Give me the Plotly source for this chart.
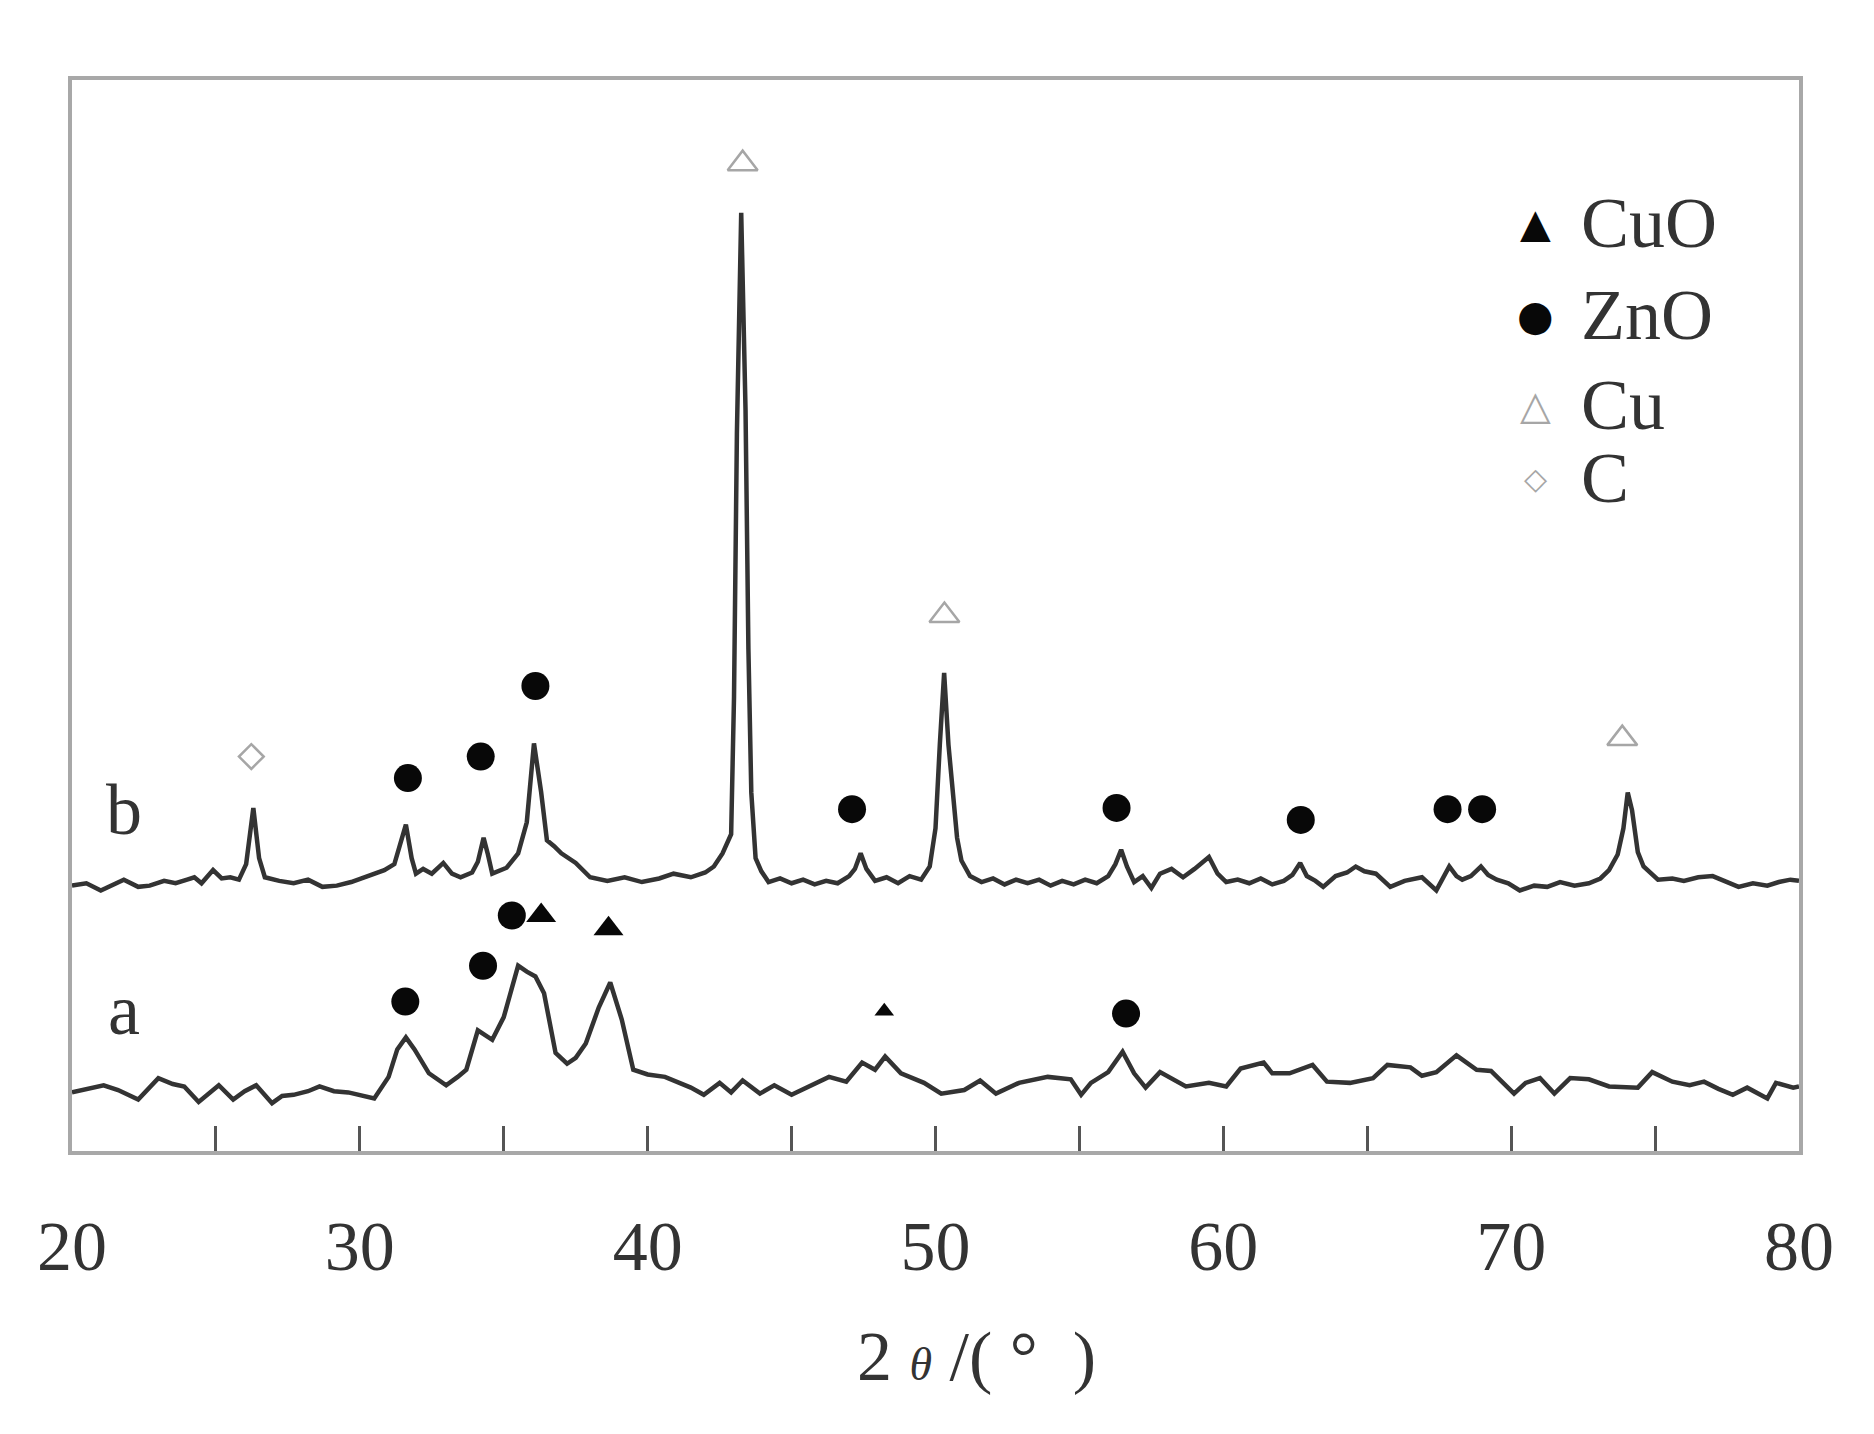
import plotly.graph_objects as go

# --- XRD patterns (intensity in arbitrary units) ---
two_theta_b = [
    20.0, 20.5, 21.0, 21.4, 21.8, 22.3, 22.7, 23.2, 23.6, 24.0, 24.25, 24.5, 24.9, 25.2, 25.5,
    25.8, 26.05, 26.3, 26.5, 26.7, 27.2, 27.7, 28.2, 28.7, 29.2, 29.7, 30.15, 30.5, 30.85, 31.2,
    31.4, 31.6, 31.8, 31.95, 32.2, 32.5, 32.9, 33.2, 33.5, 33.9, 34.1, 34.3, 34.45, 34.6, 35.1,
    35.5, 35.8, 36.05, 36.3, 36.5, 36.75, 37.0, 37.5, 38.0, 38.6, 39.2, 39.8, 40.4, 40.9, 41.5,
    42.0, 42.3, 42.6, 42.9, 43.0, 43.1, 43.25, 43.4, 43.5, 43.6, 43.75, 43.95, 44.2, 44.6, 45.0,
    45.4, 45.8, 46.2, 46.6, 47.0, 47.2, 47.4, 47.6, 47.9, 48.3, 48.7, 49.1, 49.5, 49.8, 50.0,
    50.15, 50.3, 50.45, 50.6, 50.75, 50.9, 51.2, 51.6, 52.0, 52.4, 52.8, 53.2, 53.6, 54.0, 54.4,
    54.8, 55.2, 55.6, 56.0, 56.25, 56.45, 56.65, 56.9, 57.2, 57.5, 57.8, 58.2, 58.6, 59.0, 59.5,
    59.8, 60.1, 60.5, 60.9, 61.3, 61.7, 62.1, 62.4, 62.67, 62.9, 63.2, 63.47, 63.9, 64.3, 64.6,
    64.9, 65.3, 65.8, 66.3, 66.9, 67.4, 67.85, 68.1, 68.3, 68.6, 68.95, 69.2, 69.5, 69.9, 70.3,
    70.8, 71.25, 71.7, 72.2, 72.7, 73.1, 73.4, 73.7, 73.9, 74.05, 74.2, 74.4, 74.6, 75.1, 75.6,
    76.0, 76.5, 77.0, 77.5, 77.9, 78.4, 78.9, 79.3, 79.7, 80.0,
]
intensity_b = [
    222, 224, 218, 223, 227, 221, 222, 226, 224, 227, 229, 224, 235, 228, 229,
    227, 240, 287, 245, 229, 226, 224, 227, 221, 222, 225, 229, 232, 235, 240,
    255, 273, 245, 232, 236, 232, 241, 232, 229, 233, 242, 262, 248, 232, 237,
    249, 275, 341, 300, 260, 255, 249, 241, 229, 226, 229, 225, 228, 232, 229,
    233, 238, 249, 265, 380, 600, 785, 620, 420, 300, 245, 234, 225, 228, 224,
    227, 223, 226, 224, 230, 236, 249, 236, 226, 229, 224, 230, 227, 238, 270,
    340, 400, 340, 296, 262, 243, 230, 225, 228, 223, 227, 224, 227, 222, 226,
    223, 227, 224, 230, 240, 252, 238, 225, 230, 220, 232, 236, 229, 236, 246,
    232, 225, 227, 224, 228, 223, 226, 231, 241, 230, 226, 221, 230, 233, 238,
    234, 232, 221, 226, 229, 218, 238, 230, 227, 230, 238, 231, 227, 224, 218,
    222, 221, 225, 222, 224, 228, 235, 248, 270, 300, 285, 250, 238, 227, 228,
    226, 229, 230, 225, 221, 224, 222, 225, 227, 226,
]

two_theta_a = [
    20.0, 20.5, 21.1, 21.6, 22.3, 23.0, 23.5, 23.9, 24.4, 25.1, 25.6, 26.0, 26.4, 26.95, 27.3,
    27.7, 28.2, 28.6, 29.1, 29.6, 30.1, 30.5, 31.0, 31.3, 31.6, 31.9, 32.4, 33.0, 33.4, 33.7,
    34.1, 34.35, 34.6, 35.0, 35.3, 35.5, 35.8, 36.1, 36.4, 36.8, 37.2, 37.5, 37.85, 38.3, 38.7,
    39.1, 39.5, 40.0, 40.6, 41.1, 41.5, 41.95, 42.5, 42.9, 43.3, 43.9, 44.4, 45.0, 45.6, 46.3,
    46.9, 47.45, 47.9, 48.25, 48.8, 49.6, 50.2, 51.0, 51.55, 52.1, 52.9, 53.9, 54.7, 55.06, 55.4,
    56.0, 56.5, 56.9, 57.3, 57.8, 58.7, 59.5, 60.1, 60.6, 61.4, 61.7, 62.3, 62.7, 63.1, 63.6,
    64.4, 65.2, 65.7, 66.5, 66.9, 67.4, 68.1, 68.8, 69.3, 70.1, 70.5, 71.0, 71.5, 72.05, 72.7,
    73.4, 74.4, 74.9, 75.6, 76.2, 76.7, 77.2, 77.7, 78.2, 78.9, 79.2, 79.8, 80.0,
]
intensity_a = [
    49, 52, 55, 51, 43, 61, 56, 54, 41, 55, 43, 50, 55, 40, 46,
    47, 50, 54, 50, 49, 46, 44, 62, 85, 95, 85, 65, 55, 62, 68,
    101, 97, 93, 112, 140, 155, 150, 146, 132, 82, 73, 78, 90, 120, 141,
    110, 68, 64, 62, 57, 53, 47, 57, 49, 59, 48, 55, 47, 54, 62,
    58, 74, 68, 79, 65, 57, 48, 51, 59, 48, 57, 62, 60, 47, 57,
    66, 83, 65, 53, 66, 54, 57, 54, 69, 74, 65, 65, 69, 72, 58,
    57, 61, 72, 70, 63, 66, 80, 68, 67, 48, 57, 61, 48, 61, 60,
    54, 53, 66, 58, 55, 58, 52, 47, 53, 44, 57, 53, 54,
]

# --- phase markers (peak identification) ---
zno_x = [31.67, 34.2, 36.1, 47.1, 56.29, 62.69, 67.79, 68.99, 31.58, 34.28, 35.28, 56.62]
zno_y = [312, 330, 389, 286, 287, 277, 286, 286, 125, 155, 197, 115]
cuo_x = [36.3, 38.64]
cuo_y = [197, 186]
cuo_small_x = [48.22]
cuo_small_y = [117]
cu_x = [43.3, 50.31, 73.86]
cu_y = [826, 448, 345]
c_x = [26.23]
c_y = [330]

legend_labels = ["CuO", "ZnO", "Cu", "C"]
legend_glyphs = ["▲", "●", "△", "◇"]
trace_labels = ["b", "a"]

SERIF = "Liberation Serif"
LINE = "#333333"
GREY = "#a6a6a6"
NB = "\u00a0"

fig = go.Figure()
fig.add_trace(go.Scatter(x=two_theta_b, y=intensity_b, mode="lines",
                         line=dict(color=LINE, width=4.5), showlegend=False))
fig.add_trace(go.Scatter(x=two_theta_a, y=intensity_a, mode="lines",
                         line=dict(color=LINE, width=4.5), showlegend=False))

fig.add_trace(go.Scatter(x=zno_x, y=zno_y, mode="markers", name="ZnO", showlegend=False,
                         marker=dict(symbol="circle", size=28, color="#080808")))
fig.add_trace(go.Scatter(x=cuo_x, y=cuo_y, mode="markers", name="CuO", showlegend=False,
                         marker=dict(symbol="triangle-up", size=26, color="#080808")))
fig.add_trace(go.Scatter(x=cuo_small_x, y=cuo_small_y, mode="markers", showlegend=False,
                         marker=dict(symbol="triangle-up", size=17, color="#080808")))
fig.add_trace(go.Scatter(x=cu_x, y=cu_y, mode="markers", name="Cu", showlegend=False,
                         marker=dict(symbol="triangle-up-open", size=26, color=GREY,
                                     line=dict(width=2.5, color=GREY))))
fig.add_trace(go.Scatter(x=c_x, y=c_y, mode="markers", name="C", showlegend=False,
                         marker=dict(symbol="diamond-open", size=19, color=GREY,
                                     line=dict(width=2.5, color=GREY))))

# trace labels a / b
for lab, yy in zip(trace_labels, [285, 118]):
    fig.add_annotation(x=21.79, y=yy, text=lab, showarrow=False,
                       font=dict(family=SERIF, size=72, color="#333333"))

# hand-drawn legend block (top right)
glyph_style = [("#080808", 40), ("#080808", 42), (GREY, 40), (GREY, 30)]
for lab, gl, (col, gs), yy in zip(legend_labels, legend_glyphs, glyph_style,
                                   [776, 699, 624, 563]):
    fig.add_annotation(x=70.84, y=yy, text=gl, showarrow=False, xanchor="center",
                       font=dict(family="DejaVu Sans", size=gs, color=col))
    fig.add_annotation(x=72.37, y=yy, text=lab, showarrow=False, xanchor="left",
                       font=dict(family=SERIF, size=72, color="#333333"))

# x-axis title, set slightly right of centre as in the original
x_title = ("2" + NB + "<i><span style='font-size:46px'>θ</span></i>" + NB
           + "/(" + NB + "°" + NB * 2 + ")")
fig.add_annotation(x=0.524, y=-0.192, xref="paper", yref="paper", text=x_title,
                   showarrow=False, xanchor="center", yanchor="middle",
                   font=dict(family=SERIF, size=70, color="#333333"))

fig.update_xaxes(
    range=[20, 80], showline=True, mirror=True, linecolor="#a8a8a8", linewidth=4,
    ticks="inside", tickvals=[20, 30, 40, 50, 60, 70, 80], ticklen=25, tickwidth=2.5,
    tickcolor="#555555", ticklabelstandoff=31,
    minor=dict(ticks="inside", dtick=5, tick0=20, ticklen=25, tickwidth=2.5,
               tickcolor="#555555"),
    tickfont=dict(family=SERIF, size=70, color="#333333"),
    showgrid=False, zeroline=False,
)
fig.update_yaxes(range=[0, 896], showline=True, mirror=True, linecolor="#a8a8a8",
                 linewidth=4, showticklabels=False, ticks="", showgrid=False,
                 zeroline=False)

fig.update_layout(
    width=1874, height=1434,
    margin=dict(l=64, r=83, t=72, b=291),
    plot_bgcolor="white", paper_bgcolor="white",
    showlegend=False,
)

fig.write_html("out.html")
